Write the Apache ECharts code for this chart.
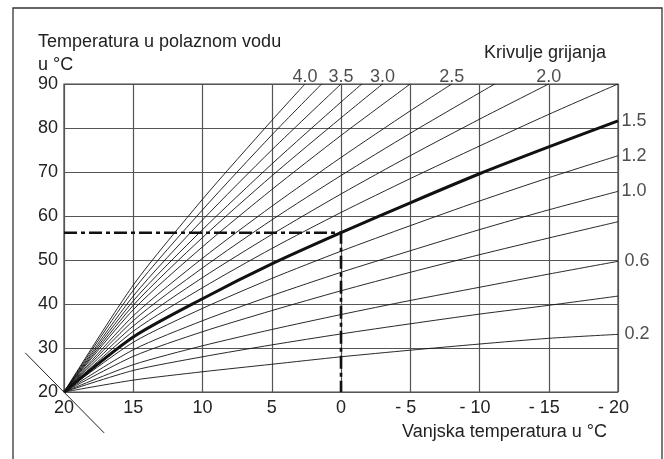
<!DOCTYPE html>
<html><head><meta charset="utf-8">
<script src="https://cdn.jsdelivr.net/npm/echarts@6/dist/echarts.min.js"></script>
<style>html,body{margin:0;padding:0;background:#fff}#c{width:664px;height:459px}</style>
</head><body><div id="c"></div>
<script>
// Outdoor temperature ticks (x, reversed) and flow temperature ticks (y)
const xTicks = [20, 15, 10, 5, 0, -5, -10, -15, -20];
const yTicks = [20, 30, 40, 50, 60, 70, 80, 90];

// Heating curves: [outdoor °C, flow °C]
const c02  = [[20,20],[15,22.7],[10,24.6],[5,26.3],[0,28.0],[-5,29.5],[-10,30.9],[-15,32.2],[-20,33.1]];
const c04  = [[20,20],[15,24.9],[10,28.0],[5,30.7],[0,33.2],[-5,35.5],[-10,37.7],[-15,39.7],[-20,41.8]];
const c06  = [[20,20],[15,26.2],[10,30.5],[5,34.2],[0,37.6],[-5,40.8],[-10,43.8],[-15,46.8],[-20,49.7]];
const c08  = [[20,20],[15,28.1],[10,33.7],[5,38.5],[0,43.0],[-5,47.2],[-10,51.2],[-15,55.0],[-20,58.7]];
const c10  = [[20,20],[15,29.6],[10,36.2],[5,41.9],[0,47.2],[-5,52.1],[-10,56.9],[-15,61.4],[-20,65.6]];
const c12  = [[20,20],[15,31.3],[10,39.0],[5,45.8],[0,52.0],[-5,57.8],[-10,63.4],[-15,68.7],[-20,73.7]];
const c15  = [[20,20],[15,32.5],[10,41.2],[5,49.1],[0,56.2],[-5,63.0],[-10,69.6],[-15,75.7],[-20,81.6]];
const c175 = [[20,20],[15,33.8],[10,43.7],[5,52.6],[0,60.8],[-5,68.5],[-10,75.9],[-15,83.1],[-20,90]];
const c20  = [[20,20],[15,35.0],[10,46.0],[5,55.8],[0,65.0],[-5,73.7],[-10,82.0],[-15,90]];
const c225 = [[20,20],[15,36.2],[10,48.2],[5,59.1],[0,69.2],[-5,78.8],[-11.1,90]];
const c25  = [[20,20],[15,37.3],[10,50.4],[5,62.2],[0,73.3],[-5,83.9],[-8,90]];
const c275 = [[20,20],[15,38.7],[10,53.0],[5,66.0],[0,78.3],[-5,90]];
const c30  = [[20,20],[15,39.7],[10,55.1],[5,69.1],[0,82.3],[-3,90]];
const c325 = [[20,20],[15,40.7],[10,56.9],[5,71.8],[0,85.9],[-1.5,90]];
const c35  = [[20,20],[15,41.8],[10,59.1],[5,75.0],[0,90]];
const c375 = [[20,20],[15,43.1],[10,61.4],[5,78.4],[1.4,90]];
const c40  = [[20,20],[15,44.3],[10,63.8],[5,81.7],[2.6,90]];

// Example reading (dash-dot)
const designOutdoor = 0;
const designFlow = 56.2;
// Diagonal mark through the origin (data units)
const diagonal = [[22.8, 28.9], [17.1, 10.7]];

const curves = [
  {name:'0.2', pts:c02, label:'right'},
  {name:'0.4', pts:c04},
  {name:'0.6', pts:c06, label:'right'},
  {name:'0.8', pts:c08},
  {name:'1.0', pts:c10, label:'right'},
  {name:'1.2', pts:c12, label:'right'},
  {name:'1.5', pts:c15, label:'right', bold:true},
  {name:'1.75', pts:c175},
  {name:'2.0', pts:c20, label:'top'},
  {name:'2.25', pts:c225},
  {name:'2.5', pts:c25, label:'top'},
  {name:'2.75', pts:c275},
  {name:'3.0', pts:c30, label:'top'},
  {name:'3.25', pts:c325},
  {name:'3.5', pts:c35, label:'top'},
  {name:'3.75', pts:c375},
  {name:'4.0', pts:c40, label:'top'}
];

const FONT = 'Liberation Sans';
const TXT = '#222';

const series = [];
curves.forEach(c => {
  series.push({
    type:'line', name:c.name, data:c.pts, showSymbol:false, smooth:0.25,
    lineStyle:{color:'#111', width:c.bold?3:0.9}, z:c.bold?4:3, silent:true
  });
  if (c.label) {
    const last = c.pts[c.pts.length-1];
    series.push({
      type:'scatter', data:[last], symbolSize:1, itemStyle:{color:'transparent'}, silent:true,
      label:{show:true, formatter:c.name, position:c.label,
        distance: c.label==='top' ? -3 : ((c.name==='0.6'||c.name==='0.2') ? 6 : 3),
        fontFamily:FONT, fontSize:18, color:TXT}
    });
  }
});
series.push({
  type:'line', data:[[xTicks[0], designFlow],[designOutdoor, designFlow],[designOutdoor, yTicks[0]]],
  showSymbol:false, lineStyle:{color:'#111', width:2.6, type:[13,4,4,4]}, z:5, silent:true
});

const chart = echarts.init(document.getElementById('c'));
chart.setOption({
  animation:false,
  backgroundColor:'#fff',
  grid:{left:64, right:46, top:84, bottom:67, show:true, borderColor:'#444', borderWidth:1.2},
  xAxis:{type:'value', inverse:true, min:xTicks[xTicks.length-1], max:xTicks[0], interval:5,
    axisLine:{show:false}, axisTick:{show:false},
    splitLine:{show:true, lineStyle:{color:'#555', width:1.2}},
    axisLabel:{margin:7, fontFamily:FONT, fontSize:18, color:TXT,
      formatter:v => v < 0 ? '{n|- ' + (-v) + '}' : String(v),
      rich:{n:{fontFamily:FONT, fontSize:18, color:TXT, padding:[0,9,0,0]}}}
  },
  yAxis:{type:'value', min:yTicks[0], max:yTicks[yTicks.length-1], interval:10,
    axisLine:{show:false}, axisTick:{show:false},
    splitLine:{show:true, lineStyle:{color:'#555', width:1.2}},
    axisLabel:{margin:6, fontFamily:FONT, fontSize:18, color:TXT}
  },
  graphic:[
    {type:'rect', shape:{x:13, y:8, width:649, height:480}, style:{fill:'none', stroke:'#333', lineWidth:1.3}, silent:true},
    {type:'text', left:38, top:33, style:{text:'Temperatura u polaznom vodu', font:'18px "Liberation Sans"', fill:TXT}},
    {type:'text', left:38, top:56, style:{text:'u °C', font:'18px "Liberation Sans"', fill:TXT}},
    {type:'text', left:484, top:44, style:{text:'Krivulje grijanja', font:'18px "Liberation Sans"', fill:TXT}},
    {type:'text', left:402, top:423, style:{text:'Vanjska temperatura u °C', font:'18px "Liberation Sans"', fill:TXT}}
  ],
  series:series
});

// Diagonal decoration placed through the axes' own scales
const p1 = chart.convertToPixel({gridIndex:0}, diagonal[0]);
const p2 = chart.convertToPixel({gridIndex:0}, diagonal[1]);
chart.setOption({
  graphic:[
    {type:'rect', shape:{x:13, y:8, width:649, height:480}, style:{fill:'none', stroke:'#333', lineWidth:1.3}, silent:true},
    {type:'text', left:38, top:33, style:{text:'Temperatura u polaznom vodu', font:'18px "Liberation Sans"', fill:TXT}},
    {type:'text', left:38, top:56, style:{text:'u °C', font:'18px "Liberation Sans"', fill:TXT}},
    {type:'text', left:484, top:44, style:{text:'Krivulje grijanja', font:'18px "Liberation Sans"', fill:TXT}},
    {type:'text', left:402, top:423, style:{text:'Vanjska temperatura u °C', font:'18px "Liberation Sans"', fill:TXT}},
    {type:'line', shape:{x1:p1[0], y1:p1[1], x2:p2[0], y2:p2[1]}, style:{stroke:'#222', lineWidth:1}, silent:true, z:10}
  ]
}, {replaceMerge:['graphic']});
</script>
</body></html>
